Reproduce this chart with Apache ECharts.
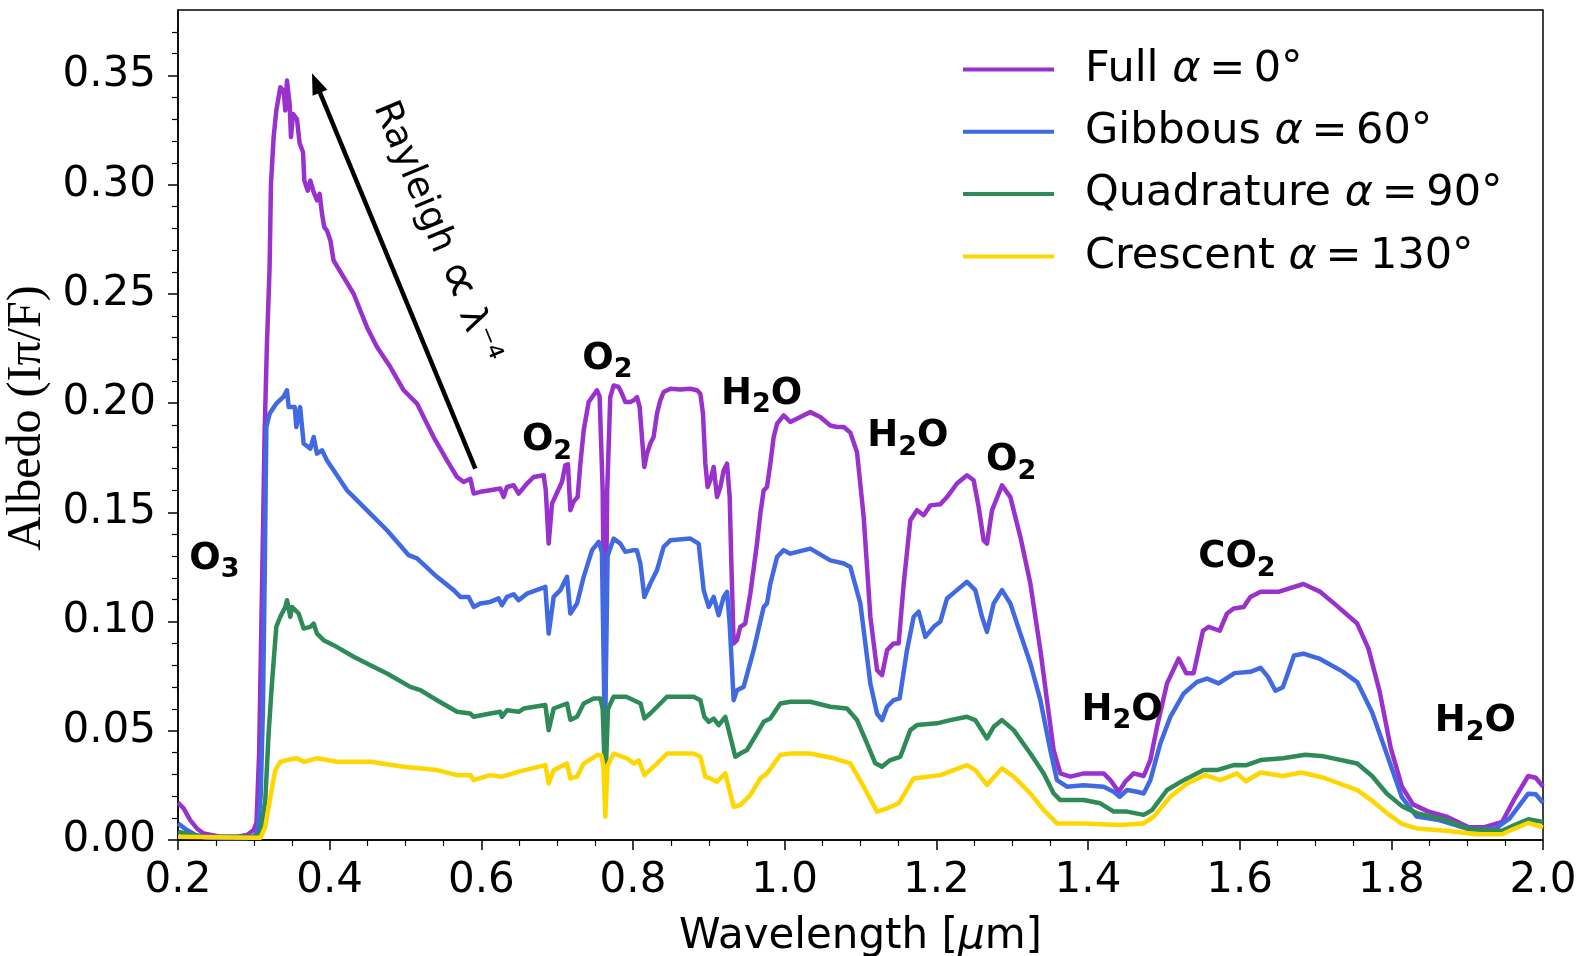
<!DOCTYPE html>
<html>
<head>
<meta charset="utf-8">
<title>Albedo vs wavelength</title>
<script src="https://cdn.jsdelivr.net/npm/echarts@6/dist/echarts.min.js"></script>
<style>
  html, body { margin: 0; padding: 0; background: #fff; }
  #main { width: 1583px; height: 956px; }
</style>
</head>
<body>
<div id="main"></div>
<script>
var yTicks = [0, 0.05, 0.1, 0.15, 0.2, 0.25, 0.3, 0.35];

var phaseNames = ['Full', 'Gibbous', 'Quadrature', 'Crescent'];
var phaseAngles = [0, 60, 90, 130];
var phaseColors = ['#9932cc', '#4169e1', '#2e8b57', '#ffd700'];

// [wavelength um, albedo]
var fullPhase = [[0.200,0.0171],[0.2074,0.0145],[0.216,0.0091],[0.225,0.0053],[0.2338,0.0030],[0.2558,0.0015],[0.2778,0.0015],[0.291,0.0023],[0.2998,0.0046],[0.3035,0.008],[0.307,0.04],[0.310,0.10],[0.3125,0.15],[0.3143,0.1876],[0.3173,0.2272],[0.3208,0.2623],[0.3226,0.3004],[0.3261,0.3218],[0.3296,0.3339],[0.3349,0.3446],[0.3393,0.3430],[0.3415,0.3340],[0.3437,0.3477],[0.3472,0.3370],[0.3490,0.3218],[0.3516,0.3324],[0.3569,0.3300],[0.3604,0.3190],[0.3648,0.3150],[0.3666,0.3019],[0.3710,0.2973],[0.3745,0.3019],[0.3789,0.2966],[0.3833,0.2928],[0.3868,0.2958],[0.3899,0.2866],[0.3929,0.2806],[0.3965,0.2790],[0.4009,0.2745],[0.4052,0.2653],[0.4184,0.2577],[0.4316,0.2501],[0.4492,0.2348],[0.4624,0.2257],[0.4800,0.2165],[0.4976,0.2059],[0.5152,0.1998],[0.5239,0.1937],[0.5371,0.1845],[0.5547,0.1738],[0.5679,0.1662],[0.5767,0.1639],[0.5855,0.1654],[0.5899,0.1586],[0.5987,0.1594],[0.6118,0.1601],[0.6250,0.1609],[0.6294,0.1571],[0.6338,0.1616],[0.6426,0.1624],[0.6492,0.1586],[0.6602,0.1632],[0.6690,0.1662],[0.6822,0.1670],[0.6850,0.1600],[0.6888,0.1357],[0.6932,0.1540],[0.6998,0.1590],[0.7064,0.1640],[0.7107,0.1715],[0.7142,0.1720],[0.7174,0.1510],[0.7218,0.1550],[0.7270,0.1570],[0.7305,0.1720],[0.7350,0.1876],[0.7415,0.2005],[0.7525,0.2059],[0.7560,0.2030],[0.7600,0.1600],[0.7630,0.0600],[0.7660,0.1600],[0.7700,0.2028],[0.7745,0.2081],[0.7811,0.2074],[0.7855,0.2043],[0.7899,0.2005],[0.7965,0.2005],[0.8009,0.2013],[0.8053,0.2028],[0.8088,0.1982],[0.8118,0.1845],[0.8149,0.1708],[0.8184,0.1769],[0.8228,0.1815],[0.8272,0.1845],[0.8316,0.1952],[0.8360,0.2013],[0.8404,0.2051],[0.8492,0.2066],[0.8624,0.2062],[0.8756,0.2066],[0.8844,0.2059],[0.8888,0.2043],[0.8923,0.1952],[0.8954,0.1723],[0.8984,0.1616],[0.9020,0.1647],[0.9064,0.1708],[0.9108,0.1570],[0.9152,0.1616],[0.9196,0.1693],[0.9240,0.1723],[0.9275,0.1571],[0.9297,0.1266],[0.9327,0.0900],[0.9371,0.0915],[0.9415,0.0976],[0.9480,0.0991],[0.9547,0.1128],[0.9635,0.1357],[0.9679,0.1494],[0.9723,0.1600],[0.9767,0.1616],[0.9811,0.1723],[0.9855,0.1845],[0.9900,0.1906],[0.9987,0.1944],[1.0075,0.1914],[1.0206,0.1937],[1.0338,0.1959],[1.0470,0.1937],[1.0602,0.1898],[1.0690,0.1891],[1.0780,0.1891],[1.0866,0.1865],[1.0954,0.1775],[1.1042,0.1479],[1.1130,0.1022],[1.1218,0.0778],[1.1284,0.0755],[1.1350,0.0869],[1.1437,0.0900],[1.1503,0.0900],[1.1570,0.1174],[1.1657,0.1464],[1.1745,0.1510],[1.1833,0.1487],[1.1921,0.1532],[1.2053,0.1537],[1.2141,0.1570],[1.2272,0.1632],[1.2404,0.1670],[1.2492,0.1647],[1.2558,0.1525],[1.2624,0.1372],[1.2668,0.1357],[1.2734,0.1509],[1.2866,0.1624],[1.2976,0.1570],[1.3108,0.1388],[1.3240,0.1174],[1.3372,0.0869],[1.3459,0.0640],[1.3547,0.0412],[1.3635,0.0305],[1.3767,0.0290],[1.3943,0.0305],[1.4206,0.0305],[1.4295,0.0274],[1.4405,0.0221],[1.4492,0.0267],[1.4602,0.0305],[1.4734,0.0293],[1.4822,0.0366],[1.4910,0.0518],[1.5042,0.0717],[1.5196,0.0831],[1.5295,0.0764],[1.5393,0.0764],[1.5516,0.0958],[1.5591,0.0976],[1.5736,0.0958],[1.5833,0.1037],[1.5921,0.1060],[1.6053,0.1067],[1.6141,0.1113],[1.6276,0.1137],[1.6521,0.1137],[1.6840,0.1172],[1.7060,0.1137],[1.7256,0.1080],[1.7550,0.0991],[1.7697,0.0877],[1.7844,0.0683],[1.7991,0.0423],[1.8139,0.0245],[1.8286,0.0163],[1.8482,0.0131],[1.8727,0.0107],[1.9021,0.0058],[1.9217,0.0058],[1.9462,0.0083],[1.9610,0.0180],[1.9805,0.0293],[1.9904,0.0285],[2.0,0.0245]];

var gibbousPhase = [[0.200,0.0076],[0.210,0.0050],[0.222,0.0025],[0.235,0.0012],[0.260,0.0008],[0.290,0.0008],[0.300,0.0015],[0.305,0.004],[0.309,0.02],[0.312,0.06],[0.3143,0.12],[0.3165,0.1891],[0.3208,0.1952],[0.3296,0.1998],[0.3393,0.2030],[0.3437,0.2059],[0.3460,0.1982],[0.3540,0.1982],[0.3560,0.1891],[0.3610,0.1982],[0.3657,0.1815],[0.3745,0.1792],[0.3789,0.1845],[0.3833,0.1769],[0.3899,0.1784],[0.3965,0.1738],[0.4052,0.1693],[0.4228,0.1601],[0.4316,0.1571],[0.4536,0.1494],[0.4756,0.1418],[0.5042,0.1304],[0.5152,0.1289],[0.5415,0.1205],[0.5635,0.1144],[0.5723,0.1113],[0.5833,0.1113],[0.5900,0.1067],[0.5987,0.1083],[0.6118,0.1090],[0.6228,0.1106],[0.6272,0.1075],[0.6338,0.1113],[0.6426,0.1125],[0.6492,0.1098],[0.6602,0.1128],[0.6844,0.1159],[0.6888,0.0945],[0.6954,0.1113],[0.7042,0.1144],[0.7130,0.1205],[0.7174,0.1037],[0.7262,0.1083],[0.7350,0.1205],[0.7460,0.1327],[0.7547,0.1365],[0.7590,0.1320],[0.7630,0.0450],[0.7665,0.1300],[0.7745,0.1380],[0.7833,0.1357],[0.7899,0.1319],[0.8009,0.1327],[0.8050,0.1327],[0.8097,0.1266],[0.8150,0.1113],[0.8228,0.1174],[0.8316,0.1235],[0.8404,0.1342],[0.8492,0.1372],[0.8756,0.1380],[0.8866,0.1357],[0.8932,0.1144],[0.8998,0.1067],[0.9064,0.1113],[0.9129,0.1029],[0.9196,0.1113],[0.9240,0.1136],[0.9275,0.0990],[0.9327,0.0640],[0.9371,0.0686],[0.9459,0.0701],[0.9591,0.0869],[0.9723,0.1067],[0.9767,0.1083],[0.9811,0.1174],[0.9900,0.1296],[0.9987,0.1327],[1.0075,0.1311],[1.0338,0.1334],[1.0602,0.1280],[1.0780,0.1266],[1.0866,0.1250],[1.0998,0.1083],[1.1130,0.0717],[1.1218,0.0579],[1.1284,0.0549],[1.1350,0.0610],[1.1437,0.0640],[1.1516,0.0648],[1.1613,0.0869],[1.1701,0.1022],[1.1767,0.1045],[1.1855,0.0930],[1.1965,0.0976],[1.2053,0.1000],[1.2141,0.1106],[1.2272,0.1144],[1.2404,0.1182],[1.2514,0.1144],[1.2602,0.1022],[1.2668,0.0953],[1.2756,0.1083],[1.2866,0.1144],[1.2976,0.1083],[1.3108,0.0945],[1.3240,0.0808],[1.3372,0.0640],[1.3503,0.0412],[1.3591,0.0274],[1.3723,0.0244],[1.3943,0.0251],[1.4206,0.0244],[1.4339,0.0221],[1.4418,0.0198],[1.4515,0.0229],[1.4646,0.0221],[1.4734,0.0213],[1.4822,0.0274],[1.4954,0.0442],[1.5086,0.0564],[1.5262,0.0671],[1.5438,0.0724],[1.5570,0.0739],[1.5723,0.0717],[1.5933,0.0764],[1.6141,0.0770],[1.6276,0.0788],[1.6374,0.0747],[1.6472,0.0683],[1.6570,0.0699],[1.6717,0.0845],[1.6840,0.0853],[1.7060,0.0829],[1.7354,0.0772],[1.7550,0.0723],[1.7746,0.0585],[1.7942,0.0391],[1.8139,0.0196],[1.8335,0.0107],[1.8630,0.0091],[1.9021,0.0050],[1.9364,0.0050],[1.9560,0.0099],[1.9805,0.0212],[1.9904,0.0209],[2.0,0.0171]];

var quadraturePhase = [[0.200,0.0038],[0.215,0.0025],[0.234,0.0015],[0.300,0.0015],[0.3086,0.0030],[0.3151,0.0183],[0.3195,0.0488],[0.3239,0.0717],[0.3296,0.0976],[0.3349,0.1022],[0.3415,0.1067],[0.3437,0.1098],[0.3481,0.1022],[0.3503,0.1067],[0.3547,0.1052],[0.3591,0.1037],[0.3657,0.0968],[0.3745,0.0976],[0.3789,0.0991],[0.3833,0.0945],[0.3920,0.0915],[0.4052,0.0892],[0.4316,0.0839],[0.4537,0.0800],[0.4756,0.0762],[0.5064,0.0701],[0.5196,0.0686],[0.5415,0.0640],[0.5680,0.0587],[0.5855,0.0579],[0.5900,0.0564],[0.6118,0.0579],[0.6250,0.0587],[0.6272,0.0564],[0.6338,0.0594],[0.6492,0.0587],[0.6558,0.0602],[0.6844,0.0618],[0.6888,0.0503],[0.6954,0.0602],[0.7130,0.0625],[0.7174,0.0550],[0.7262,0.0564],[0.7350,0.0625],[0.7482,0.0648],[0.7570,0.0648],[0.7600,0.0600],[0.7635,0.0250],[0.7670,0.0600],[0.7745,0.0656],[0.7911,0.0656],[0.8010,0.0640],[0.8100,0.0625],[0.8150,0.0556],[0.8228,0.0579],[0.8360,0.0625],[0.8448,0.0656],[0.8800,0.0656],[0.8888,0.0640],[0.8940,0.0564],[0.8998,0.0541],[0.9064,0.0556],[0.9130,0.0526],[0.9217,0.0564],[0.9262,0.0503],[0.9349,0.0381],[0.9415,0.0396],[0.9503,0.0412],[0.9635,0.0488],[0.9723,0.0541],[0.9811,0.0556],[0.9943,0.0625],[1.0075,0.0633],[1.0338,0.0633],[1.0602,0.0610],[1.0822,0.0602],[1.0954,0.0549],[1.1086,0.0442],[1.1195,0.0351],[1.1283,0.0336],[1.1393,0.0366],[1.1525,0.0381],[1.1657,0.0503],[1.1745,0.0526],[1.2009,0.0534],[1.2185,0.0549],[1.2404,0.0564],[1.2514,0.0549],[1.2668,0.0465],[1.2756,0.0518],[1.2866,0.0549],[1.3020,0.0503],[1.3240,0.0396],[1.3416,0.0305],[1.3547,0.0213],[1.3635,0.0183],[1.3943,0.0183],[1.4162,0.0168],[1.4339,0.0130],[1.4515,0.0130],[1.4734,0.0115],[1.4844,0.0137],[1.5042,0.0229],[1.5262,0.0274],[1.5525,0.0320],[1.5701,0.0320],[1.5921,0.0343],[1.6080,0.0342],[1.6276,0.0366],[1.6570,0.0374],[1.6864,0.0390],[1.7109,0.0383],[1.7550,0.0350],[1.7746,0.0293],[1.7942,0.0212],[1.8139,0.0155],[1.8335,0.0123],[1.8727,0.0091],[1.9021,0.0050],[1.9462,0.0042],[1.9610,0.0066],[1.9805,0.0095],[2.0,0.0083]];

var crescentPhase = [[0.200,0.0015],[0.300,0.0010],[0.3086,0.0010],[0.3151,0.0060],[0.3218,0.0198],[0.3283,0.0320],[0.3349,0.0358],[0.3437,0.0366],[0.3569,0.0374],[0.3657,0.0358],[0.3833,0.0374],[0.4097,0.0358],[0.4537,0.0358],[0.4976,0.0335],[0.5415,0.0320],[0.5680,0.0297],[0.5855,0.0297],[0.5900,0.0274],[0.6118,0.0297],[0.6272,0.0290],[0.6492,0.0313],[0.6844,0.0343],[0.6888,0.0259],[0.6954,0.0320],[0.7130,0.0350],[0.7174,0.0282],[0.7262,0.0290],[0.7350,0.0350],[0.7526,0.0389],[0.7580,0.0389],[0.7610,0.0340],[0.7635,0.0107],[0.7665,0.0340],[0.7745,0.0396],[0.7920,0.0374],[0.8010,0.0350],[0.8075,0.0365],[0.8150,0.0297],[0.8316,0.0350],[0.8448,0.0396],[0.8800,0.0396],[0.8888,0.0381],[0.8954,0.0289],[0.9020,0.0282],[0.9108,0.0267],[0.9217,0.0305],[0.9327,0.0152],[0.9415,0.0160],[0.9547,0.0206],[0.9680,0.0282],[0.9767,0.0305],[0.9943,0.0389],[1.0075,0.0396],[1.0338,0.0396],[1.0646,0.0374],[1.0866,0.0351],[1.1042,0.0244],[1.1218,0.0130],[1.1350,0.0145],[1.1503,0.0168],[1.1701,0.0282],[1.1877,0.0290],[1.2053,0.0297],[1.2404,0.0343],[1.2514,0.0320],[1.2668,0.0252],[1.2866,0.0328],[1.3020,0.0290],[1.3240,0.0213],[1.3416,0.0137],[1.3591,0.0076],[1.3943,0.0076],[1.4426,0.0069],[1.4734,0.0076],[1.4866,0.0107],[1.5086,0.0198],[1.5306,0.0259],[1.5547,0.0297],[1.5745,0.0274],[1.5965,0.0305],[1.6080,0.0269],[1.6276,0.0309],[1.6570,0.0293],[1.6815,0.0309],[1.7109,0.0285],[1.7550,0.0228],[1.7746,0.0180],[1.7942,0.0123],[1.8139,0.0074],[1.8335,0.0053],[1.8727,0.0042],[1.9119,0.0026],[1.9462,0.0026],[1.9610,0.0050],[1.9805,0.0078],[2.0,0.0058]];

// absorber labels: [wavelength, albedo, molecule]
var absorbers = [
  [0.2481, 0.1273, 'O3'],
  [0.6866, 0.1815, 'O2'],
  [0.7661, 0.2188, 'O2'],
  [0.9695, 0.2026, 'H2O'],
  [1.1624, 0.1833, 'H2O'],
  [1.2986, 0.1723, 'O2'],
  [1.5964, 0.1279, 'CO2'],
  [1.4450, 0.0581, 'H2O'],
  [1.9107, 0.0528, 'H2O']
];

// Rayleigh arrow: tail, head, text centre
var rayleighArrow = [0.5921, 0.1700, 0.3767, 0.3510, 0.5406, 0.2781];

var phaseData = [fullPhase, gibbousPhase, quadraturePhase, crescentPhase];

function chem(t) {
  return t.replace(/(\D+)|(\d+)/g, function (m, a, d) {
    return a ? '{m|' + a + '}' : '{s|' + d + '}';
  });
}

var chart = echarts.init(document.getElementById('main'));

var series = phaseNames.map(function (name, i) {
  return {
    name: name,
    type: 'line',
    data: phaseData[i],
    showSymbol: false,
    symbol: 'none',
    silent: true,
    lineStyle: { color: phaseColors[i], width: 4.5, join: 'round' },
    itemStyle: { color: phaseColors[i] },
    z: 2
  };
});

series.push({
  type: 'scatter',
  data: absorbers,
  symbolSize: 0,
  silent: true,
  itemStyle: { color: '#000', opacity: 1 },
  label: {
    show: true,
    position: 'inside',
    color: '#000',
    opacity: 1,
    textBorderWidth: 0,
    formatter: function (p) { return chem(p.data[2]); },
    rich: {
      m: { fontSize: 37, fontWeight: 'bold', fontFamily: 'DejaVu Sans', color: '#000', textBorderWidth: 0, padding: [0, 0, 6, 0], verticalAlign: 'bottom' },
      s: { fontSize: 27, fontWeight: 'bold', fontFamily: 'DejaVu Sans', color: '#000', textBorderWidth: 0, verticalAlign: 'bottom' }
    }
  },
  z: 5
});

series.push({
  type: 'custom',
  coordinateSystem: 'cartesian2d',
  data: [rayleighArrow],
  silent: true,
  z: 4,
  renderItem: function (params, api) {
    var a = api.coord([api.value(0), api.value(1)]);
    var b = api.coord([api.value(2), api.value(3)]);
    var c = api.coord([api.value(4), api.value(5)]);
    var dx = b[0] - a[0], dy = b[1] - a[1];
    var len = Math.sqrt(dx * dx + dy * dy);
    var ux = dx / len, uy = dy / len;
    var hl = 21, hw = 8;
    var base = [b[0] - ux * hl, b[1] - uy * hl];
    var ang = Math.atan2(dy, dx);
    return {
      type: 'group',
      children: [
        { type: 'line', shape: { x1: a[0], y1: a[1], x2: base[0] + ux * 2, y2: base[1] + uy * 2 },
          style: { stroke: '#000', lineWidth: 4.5 } },
        { type: 'polygon', shape: { points: [b, [base[0] - uy * hw, base[1] + ux * hw], [base[0] + uy * hw, base[1] - ux * hw]] },
          style: { fill: '#000' } },
        { type: 'text', x: c[0], y: c[1], rotation: -(ang + Math.PI),
          style: {
            text: '{t|Rayleigh }{p|\u221d}{t| \u03bb\u207b\u2074}',
            align: 'center', verticalAlign: 'middle',
            rich: {
              t: { fontSize: 37, fontFamily: 'DejaVu Sans', fill: '#000', lineHeight: 44 },
              p: { fontSize: 56, fontFamily: 'DejaVu Sans', fill: '#000', lineHeight: 44 }
            }
          } }
      ]
    };
  }
});

var option = {
  animation: false,
  backgroundColor: '#fff',
  grid: { left: 178, right: 40, top: 10, bottom: 116, show: true, borderColor: '#000', borderWidth: 1.5, outerBoundsMode: 'none' },
  legend: {
    data: phaseNames,
    orient: 'vertical',
    left: 958,
    top: 43,
    itemWidth: 91,
    itemHeight: 4,
    itemGap: 19.3,
    icon: 'rect',
    selectedMode: false,
    formatter: function (name) {
      var i = phaseNames.indexOf(name);
      return '{n|' + name + ' }{a|\u03b1}{n|\u2009=\u2009' + phaseAngles[i] + '\u00b0}';
    },
    textStyle: {
      padding: [0, 0, 0, 26],
      rich: {
        n: { fontSize: 43, fontFamily: 'DejaVu Sans', color: '#000', lineHeight: 50 },
        a: { fontSize: 43, fontFamily: 'DejaVu Sans', fontStyle: 'italic', color: '#000', lineHeight: 50 }
      }
    }
  },
  xAxis: {
    type: 'value',
    min: 0.2,
    max: 2.0,
    interval: 0.2,
    axisLine: { show: true, onZero: false, lineStyle: { color: '#000', width: 1.5 } },
    axisTick: { show: true, length: 10, lineStyle: { color: '#000', width: 1.5 } },
    minorTick: { show: true, splitNumber: 4, length: 6, lineStyle: { color: '#000', width: 1.2 } },
    splitLine: { show: false },
    axisLabel: {
      fontSize: 42, fontFamily: 'DejaVu Sans', color: '#000', margin: 20,
      formatter: function (v) { return v.toFixed(1); }
    },
    name: '{a|Wavelength [}{i|\u03bc}{a|m]}',
    nameLocation: 'middle',
    nameGap: 76,
    nameTextStyle: {
      rich: {
        a: { fontSize: 42, fontFamily: 'DejaVu Sans', color: '#000' },
        i: { fontSize: 42, fontFamily: 'DejaVu Sans', fontStyle: 'italic', color: '#000' }
      }
    }
  },
  yAxis: {
    type: 'value',
    min: 0,
    max: 0.38,
    interval: 0.05,
    axisLine: { show: true, lineStyle: { color: '#000', width: 1.5 } },
    axisTick: { show: true, length: 10, customValues: yTicks, lineStyle: { color: '#000', width: 1.5 } },
    minorTick: { show: true, splitNumber: 5, length: 6, lineStyle: { color: '#000', width: 1.2 } },
    splitLine: { show: false },
    axisLabel: {
      customValues: yTicks,
      fontSize: 42, fontFamily: 'DejaVu Sans', color: '#000', margin: 22,
      formatter: function (v) { return v.toFixed(2); }
    },
    name: 'Albedo (I\u03c0/F)',
    nameLocation: 'middle',
    nameGap: 118,
    nameTextStyle: { fontFamily: 'Liberation Serif', fontSize: 48, color: '#000', padding: [0, 0, 0, 14] }
  },
  series: series
};

chart.setOption(option);
</script>
</body>
</html>
